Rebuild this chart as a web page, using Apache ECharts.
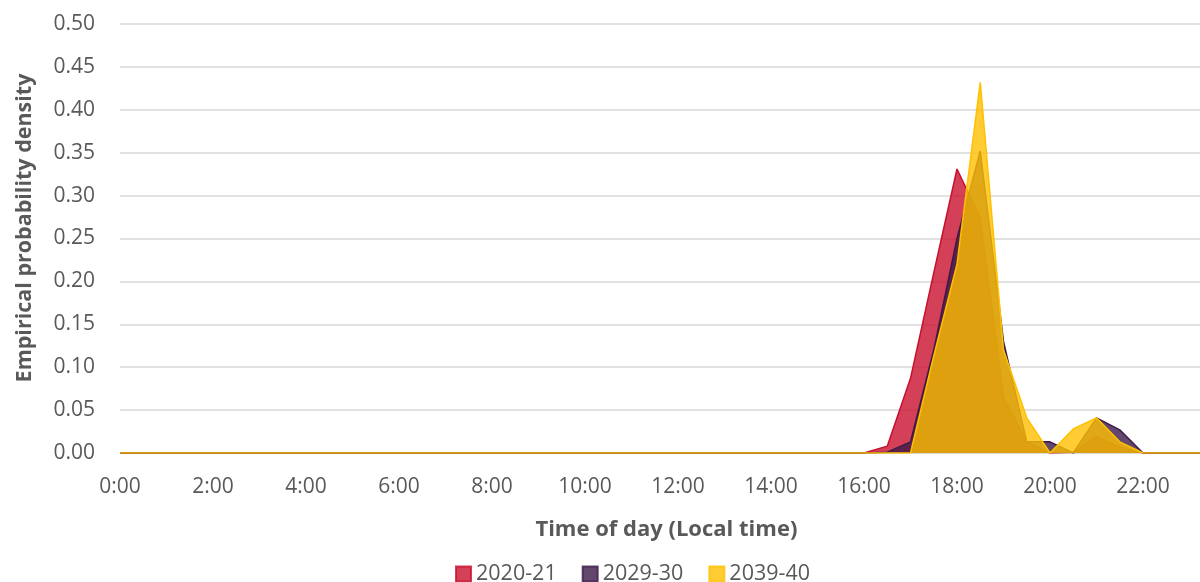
<!DOCTYPE html>
<html>
<head>
<meta charset="utf-8">
<script src="https://cdn.jsdelivr.net/npm/echarts@6/dist/echarts.min.js"></script>
<style>
html,body{margin:0;padding:0;background:#fff;}
#chart{width:1200px;height:582px;}
</style>
</head>
<body>
<div id="chart"></div>
<script>
// Half-hour categories 0:00 .. 23:30
const categories = [];
for (let h = 0; h < 24; h++) { categories.push(h + ':00'); categories.push(h + ':30'); }

const seriesNames = ['2020-21', '2029-30', '2039-40'];

// values indexed by half hour (0 = 0:00, 32 = 16:00, 36 = 18:00, 40 = 20:00, 44 = 22:00)
const values2020 = [
  0,0,0,0,0,0,0,0, 0,0,0,0,0,0,0,0,
  0,0,0,0,0,0,0,0, 0,0,0,0,0,0,0,0,
  0, 0.008, 0.087, 0.21, 0.331, 0.274, 0.065, 0.013,
  0, 0.001, 0.019, 0.007, 0, 0, 0, 0
];
const values2029 = [
  0,0,0,0,0,0,0,0, 0,0,0,0,0,0,0,0,
  0,0,0,0,0,0,0,0, 0,0,0,0,0,0,0,0,
  0, 0.001, 0.013, 0.12, 0.25, 0.352, 0.13, 0.013,
  0.013, 0, 0.041, 0.027, 0, 0, 0, 0
];
const values2039 = [
  0,0,0,0,0,0,0,0, 0,0,0,0,0,0,0,0,
  0,0,0,0,0,0,0,0, 0,0,0,0,0,0,0,0,
  0, 0, 0, 0.113, 0.22, 0.432, 0.12, 0.041,
  0, 0.028, 0.041, 0.013, 0, 0, 0, 0
];
const yTicks = [0, 0.05, 0.10, 0.15, 0.20, 0.25, 0.30, 0.35, 0.40, 0.45, 0.50];

const lineColors = ['#C8102E', '#3C1A48', '#FFC000'];
const FONT = '"Open Sans", "Noto Sans", sans-serif';

const chart = echarts.init(document.getElementById('chart'), null, {renderer: 'canvas'});
const allValues = [values2020, values2029, values2039];

chart.setOption({
  animation: false,
  backgroundColor: '#ffffff',
  grid: { left: 120, width: 1092.75, top: 24, height: 429, containLabel: false, outerBoundsMode: 'none' },
  legend: {
    top: 558,
    left: 450,
    itemWidth: 15,
    itemHeight: 15,
    itemGap: 25,
    icon: 'rect',
    textStyle: { fontFamily: FONT, fontSize: 21.5, color: '#595959' },
    data: seriesNames
  },
  graphic: [{
    type: 'text',
    x: 25,
    y: 228,
    rotation: Math.PI / 2,
    style: {
      text: 'Empirical probability density',
      font: 'bold 21.5px "Open Sans", "Noto Sans", sans-serif',
      fill: '#595959',
      align: 'center',
      verticalAlign: 'middle'
    }
  }],
  xAxis: {
    type: 'category',
    data: categories,
    boundaryGap: false,
    name: 'Time of day (Local time)',
    nameLocation: 'middle',
    nameGap: 66,
    nameTextStyle: { fontFamily: FONT, fontSize: 22, fontWeight: 'bold', color: '#595959' },
    axisLine: { show: true, lineStyle: { color: '#D9D9D9', width: 1 } },
    axisTick: { show: false },
    axisLabel: { interval: 3, margin: 24, fontFamily: FONT, fontSize: 21, color: '#595959' },
    splitLine: { show: false }
  },
  yAxis: {
    type: 'value',
    min: yTicks[0],
    max: yTicks[yTicks.length - 1],
    interval: 0.05,
    axisLine: { show: false },
    axisTick: { show: false },
    axisLabel: { margin: 25, fontFamily: FONT, fontSize: 21, color: '#595959',
      formatter: v => v.toFixed(2) },
    splitLine: { lineStyle: { color: '#D9D9D9', width: 1.5 } }
  },
  series: seriesNames.map((name, i) => ({
    name: name,
    type: 'line',
    data: allValues[i],
    symbol: 'none',
    lineStyle: { color: lineColors[i], width: 1.5 },
    itemStyle: { color: lineColors[i], borderColor: lineColors[i], borderWidth: 1.5, opacity: 0.8 },
    areaStyle: { color: lineColors[i], opacity: 0.8 },
    z: 2 + i
  }))
});
</script>
</body>
</html>
